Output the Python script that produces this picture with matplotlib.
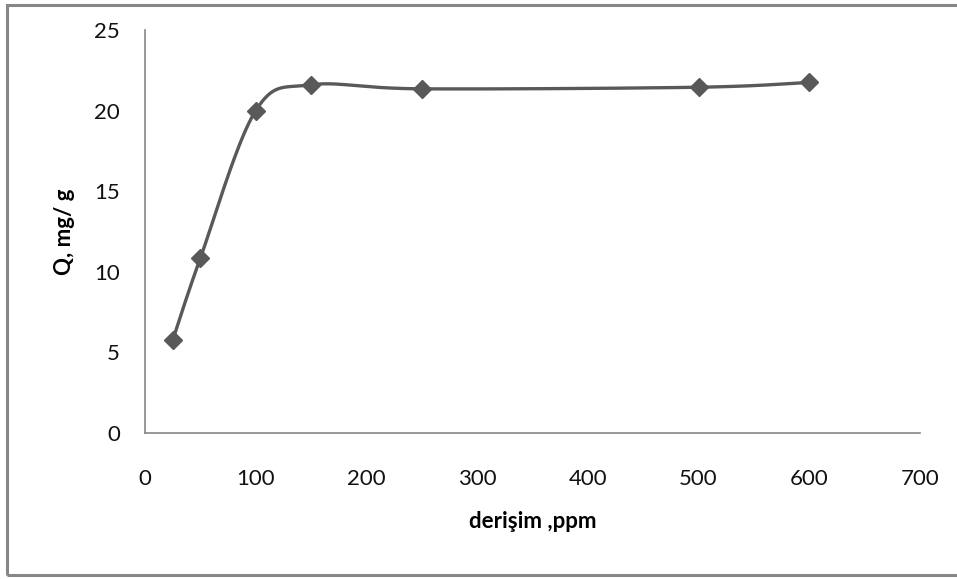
import numpy as np
import matplotlib
matplotlib.use("Agg")
import matplotlib.pyplot as plt
from matplotlib.patches import Rectangle

# concentration (ppm) vs adsorbed amount Q (mg/g)
concentration = [25, 50, 100, 150, 250, 500, 600]
q_values = [5.75, 10.85, 20.0, 21.6, 21.35, 21.45, 21.75]
x_ticks = [0, 100, 200, 300, 400, 500, 600, 700]
y_ticks = [0, 5, 10, 15, 20, 25]

plt.rcParams['font.family'] = ['Lato', 'DejaVu Sans']

W, H = 957, 579
fig = plt.figure(figsize=(W / 100, H / 100), dpi=100)
fig.patch.set_facecolor('white')

# outer chart frame
fig.add_artist(Rectangle((7 / W, 4 / H), 1.2, (H - 5) / H - 4 / H,
                         transform=fig.transFigure, fill=False,
                         edgecolor='#878787', linewidth=2.2, clip_on=False))

left, right, bottom, top = 145, 920, 433, 30
ax = fig.add_axes([left / W, (H - bottom) / H, (right - left) / W, (bottom - top) / H])

xmax, ymax = 700, 25
ax.set_xlim(0, xmax)
ax.set_ylim(0, ymax)


def smooth_curve(xs, ys, sx, sy, n=40):
    """Bezier smoothing through the points (Catmull-Rom style tangents),
    computed in screen-proportional units."""
    p = np.column_stack([np.asarray(xs, float) * sx, np.asarray(ys, float) * sy])
    out = []
    for i in range(len(p) - 1):
        p0 = p[i - 1] if i > 0 else p[i]
        p1, p2 = p[i], p[i + 1]
        p3 = p[i + 2] if i + 2 < len(p) else p[i + 1]
        c1 = p1 + (p2 - p0) / 6.0
        c2 = p2 - (p3 - p1) / 6.0
        t = np.linspace(0, 1, n)[:, None]
        seg = ((1 - t) ** 3) * p1 + 3 * ((1 - t) ** 2) * t * c1 + 3 * (1 - t) * t ** 2 * c2 + t ** 3 * p2
        out.append(seg if i == 0 else seg[1:])
    c = np.vstack(out)
    return c[:, 0] / sx, c[:, 1] / sy


sx = (right - left) / xmax
sy = (bottom - top) / ymax
cx, cy = smooth_curve(concentration, q_values, sx, sy)

line_color = '#595959'
ax.plot(cx, cy, color=line_color, linewidth=2.4, solid_capstyle='round', zorder=3)
ax.plot(concentration, q_values, linestyle='none', marker='D', markersize=9,
        color=line_color, markeredgecolor=line_color, zorder=4)

for s in ['top', 'right']:
    ax.spines[s].set_visible(False)
for s in ['left', 'bottom']:
    ax.spines[s].set_color('#868686')
    ax.spines[s].set_linewidth(1.2)

ax.set_xticks(x_ticks)
ax.set_yticks(y_ticks)
ax.tick_params(axis='both', length=0, labelsize=16, colors='#111111')
ax.tick_params(axis='x', pad=26)
ax.tick_params(axis='y', pad=18)

ax.set_xlabel('derişim ,ppm', fontsize=16, fontweight='bold', labelpad=16)
ax.set_ylabel('Q, mg/ g', fontsize=16, fontweight='bold', labelpad=14)

fig.savefig('out.png', dpi=100, facecolor='white')
